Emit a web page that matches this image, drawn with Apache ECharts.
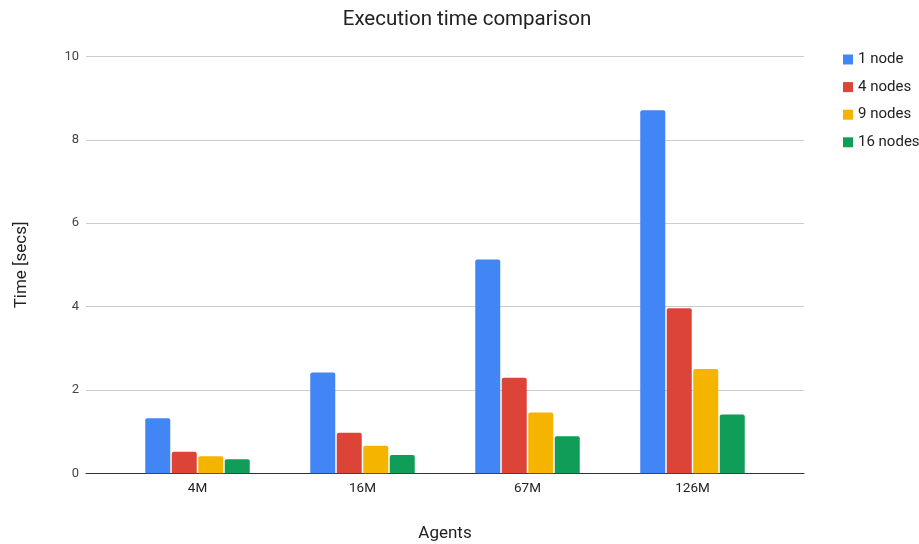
<!DOCTYPE html>
<html>
<head>
<meta charset="utf-8">
<title>Execution time comparison</title>
<script src="https://cdn.jsdelivr.net/npm/echarts@6/dist/echarts.min.js"></script>
<style>
  html, body { margin: 0; padding: 0; background: #fff; }
  #chart { width: 919px; height: 544px; }
</style>
</head>
<body>
<div id="chart"></div>
<script>
// Problem sizes (number of agents)
const categories = ['4M', '16M', '67M', '126M'];

// Execution time in seconds for each cluster size
const seriesNames = ['1 node', '4 nodes', '9 nodes', '16 nodes'];
const oneNode = [1.32, 2.42, 5.13, 8.71];
const fourNodes = [0.52, 0.97, 2.29, 3.96];
const nineNodes = [0.41, 0.66, 1.46, 2.50];
const sixteenNodes = [0.34, 0.44, 0.89, 1.41];

const yTicks = [0, 2, 4, 6, 8, 10];

const colors = ['#4285F4', '#DB4437', '#F4B400', '#0F9D58'];
const seriesData = [oneNode, fourNodes, nineNodes, sixteenNodes];

const FONT = 'Roboto, "Noto Sans", sans-serif';
const TOP = 56.5;
const BOTTOM = 544 - 473.3;

const chart = echarts.init(document.getElementById('chart'), null, { renderer: 'canvas' });

const option = {
  animation: false,
  backgroundColor: '#ffffff',
  title: {
    text: 'Execution time comparison',
    left: 462,
    textAlign: 'center',
    top: 4,
    textStyle: { fontFamily: FONT, fontSize: 20.5, fontWeight: 'normal', color: '#222222' }
  },
  legend: {
    orient: 'vertical',
    left: 838,
    top: 47,
    itemWidth: 10,
    itemHeight: 10,
    itemGap: 12.6,
    icon: 'rect',
    data: seriesNames,
    textStyle: { fontFamily: FONT, fontSize: 15, color: '#222222' }
  },
  grid: [
    // bar area
    { left: 115, right: 144, top: TOP, bottom: BOTTOM, outerBoundsMode: 'none', containLabel: false },
    // full-width background for gridlines, value labels and baseline
    { left: 86, right: 115, top: TOP, bottom: BOTTOM, outerBoundsMode: 'none', containLabel: false }
  ],
  xAxis: [
    {
      type: 'category',
      gridIndex: 0,
      data: categories,
      boundaryGap: true,
      axisLine: { show: false },
      axisTick: { show: false },
      axisLabel: { fontFamily: FONT, fontSize: 13.5, color: '#222222', margin: 8 },
      name: 'Agents',
      nameLocation: 'middle',
      nameGap: 52,
      nameTextStyle: { fontFamily: FONT, fontSize: 17, color: '#222222' }
    },
    {
      type: 'value',
      gridIndex: 1,
      min: 0,
      max: 1,
      axisLine: { show: true, lineStyle: { color: '#333333', width: 1 } },
      axisTick: { show: false },
      axisLabel: { show: false },
      splitLine: { show: false }
    }
  ],
  yAxis: [
    {
      type: 'value',
      gridIndex: 0,
      min: yTicks[0],
      max: yTicks[yTicks.length - 1],
      interval: 2,
      axisLine: { show: false },
      axisTick: { show: false },
      axisLabel: { show: false },
      splitLine: { show: false }
    },
    {
      type: 'value',
      gridIndex: 1,
      min: yTicks[0],
      max: yTicks[yTicks.length - 1],
      interval: 2,
      axisLine: { show: false },
      axisTick: { show: false },
      axisLabel: { fontFamily: FONT, fontSize: 13, color: '#444444', margin: 7 },
      splitLine: { show: true, lineStyle: { color: '#cccccc', width: 1 } },
      name: 'Time [secs]',
      nameLocation: 'middle',
      nameGap: 56,
      nameRotate: 90,
      nameTextStyle: { fontFamily: FONT, fontSize: 17, color: '#222222' }
    }
  ],
  series: seriesNames.map((name, i) => ({
    name: name,
    type: 'bar',
    xAxisIndex: 0,
    yAxisIndex: 0,
    data: seriesData[i],
    barWidth: 25,
    barGap: '6%',
    itemStyle: { color: colors[i], borderRadius: [2, 2, 0, 0] }
  }))
};

chart.setOption(option);
</script>
</body>
</html>
